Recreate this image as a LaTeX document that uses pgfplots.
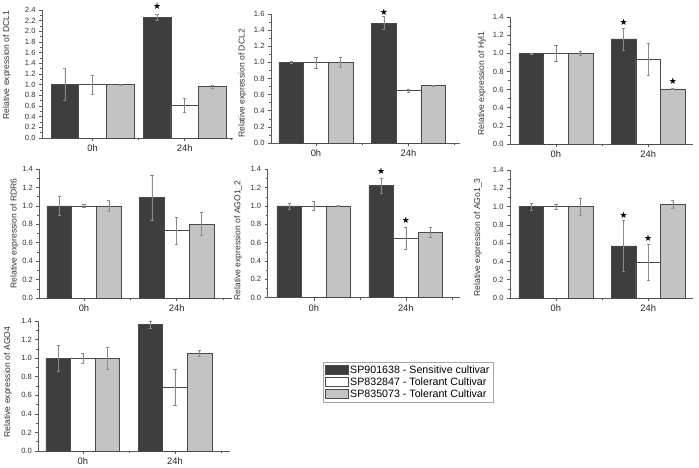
\documentclass[border=0pt]{standalone}
\usepackage{pgfplots}
\pgfplotsset{compat=1.18}
\usepackage{fontspec}
\setmainfont{Liberation Sans}
\newfontfamily\dejavu{DejaVu Sans}
\definecolor{darkbar}{HTML}{3E3E3E}
\definecolor{graybar}{HTML}{C3C3C3}
\definecolor{edge}{HTML}{4A4A4A}
\definecolor{errc}{HTML}{8A8A8A}
\definecolor{axc}{HTML}{5A5A5A}
\pgfplotsset{
 panel/.style={
  scale only axis,
  anchor=south west,
  axis x line*=bottom, axis y line*=left,
  axis line style={axc, line width=0.6pt},
  tick style={axc, line width=0.5pt},
  tick align=outside,
  major tick length=3bp, minor tick length=2bp,
  ymin=0,
  xtick={0,1}, xticklabels={0h,24h},
  minor xtick={0.5,1.5},
  ytick distance=0.2, minor y tick num=1,
  /pgf/number format/assume math mode=true,
  yticklabel style={/pgf/number format/.cd, fixed, fixed zerofill, precision=1, /tikz/.cd, font=\fontsize{7.6}{8}\selectfont, text=black!80},
  xticklabel style={font=\fontsize{9.4}{10}\selectfont, text=black!85},
  ylabel style={font=\fontsize{8.6}{9}\selectfont, text=black!80, anchor=center},
  clip=false,
  bar width=0.267,
 },
 bars/.style={ybar, bar shift=0pt, draw=edge, line width=0.55pt, fill=#1,
   legend image code/.code={\draw[##1,/tikz/.cd, draw=edge] (0bp,-4.5bp) rectangle (23bp,4.5bp);},
   error bars/.cd, y dir=both, y explicit,
   error bar style={errc, line width=0.45pt},
   error mark options={errc, rotate=90, mark size=1.6bp, line width=0.45pt}},
 star/.style={only marks, mark=text, text mark={\fontsize{9}{9}\selectfont\dejavu ★}, black}
}
\begin{document}
\begin{tikzpicture}
\path[use as bounding box] (0,0) rectangle (699bp,468bp);
% ---------------- DCL1
\begin{axis}[panel, at={(42bp,330bp)}, width=191.3bp, height=128bp,
  ymax=2.4, xmin=-0.548, xmax=1.527, bar width=0.3,
  ylabel={Relative expression of DCL1},
  ylabel style={at={([xshift=-35bp,yshift=9bp]axis description cs:0,0.5)}}]
\addplot[bars=darkbar] coordinates {(-0.3,1.0) +- (0,0.30) (0.7,2.26) +- (0,0.06)};
\addplot[bars=white] coordinates {(0,1.0) +- (0,0.17) (1,0.61) +- (0,0.13)};
\addplot[bars=graybar] coordinates {(0.3,1.0) +- (0,0.01) (1.3,0.966) +- (0,0.03)};
\addplot[star] coordinates {(0.7,2.475)};
\end{axis}
% ---------------- DCL2
\begin{axis}[panel, at={(271bp,325bp)}, width=189bp, height=129bp,
  ymax=1.6, xmin=-0.486, xmax=1.557,
  ylabel={Relative expression of DCL2},
  ylabel style={at={([xshift=-28.5bp,yshift=-5bp]axis description cs:0,0.5)}}]
\addplot[bars=darkbar] coordinates {(-0.267,1.0) +- (0,0.01) (0.733,1.488) +- (0,0.08)};
\addplot[bars=white] coordinates {(0,1.0) +- (0,0.07) (1,0.653) +- (0,0.02)};
\addplot[bars=graybar] coordinates {(0.267,1.0) +- (0,0.06) (1.267,0.71) +- (0,0.01)};
\addplot[star] coordinates {(0.733,1.62)};
\end{axis}
% ---------------- Hyl1
\begin{axis}[panel, at={(510bp,324bp)}, width=183bp, height=127bp,
  ymax=1.4, xmin=-0.498, xmax=1.486,
  ylabel={Relative expression of Hyl1},
  ylabel style={at={([xshift=-28bp,yshift=-3bp]axis description cs:0,0.5)}}]
\addplot[bars=darkbar] coordinates {(-0.267,1.0) +- (0,0.005) (0.733,1.159) +- (0,0.12)};
\addplot[bars=white] coordinates {(0,1.0) +- (0,0.085) (1,0.936) +- (0,0.18)};
\addplot[bars=graybar] coordinates {(0.267,1.0) +- (0,0.02) (1.267,0.607) +- (0,0.005)};
\addplot[star] coordinates {(0.733,1.337) (1.267,0.695)};
\end{axis}
% ---------------- RDR6
\begin{axis}[panel, at={(39.3bp,170bp)}, width=192.4bp, height=129bp,
  ymax=1.4, xmin=-0.482, xmax=1.593,
  ylabel={Relative expression of RDR6},
  ylabel style={at={([xshift=-25bp]axis description cs:0,0.5)}}]
\addplot[bars=darkbar] coordinates {(-0.267,1.0) +- (0,0.10) (0.733,1.089) +- (0,0.245)};
\addplot[bars=white] coordinates {(0,1.0) +- (0,0.02) (1,0.731) +- (0,0.145)};
\addplot[bars=graybar] coordinates {(0.267,1.0) +- (0,0.06) (1.267,0.803) +- (0,0.125)};
\end{axis}
% ---------------- AGO1_2
\begin{axis}[panel, at={(267.7bp,170.3bp)}, width=192.3bp, height=128.4bp,
  ymax=1.4, xmin=-0.5, xmax=1.588,
  ylabel={Relative expression of AGO1\_2},
  ylabel style={at={([xshift=-29.5bp,yshift=-7bp]axis description cs:0,0.5)}}]
\addplot[bars=darkbar] coordinates {(-0.267,1.0) +- (0,0.03) (0.733,1.222) +- (0,0.085)};
\addplot[bars=white] coordinates {(0,1.0) +- (0,0.05) (1,0.651) +- (0,0.12)};
\addplot[bars=graybar] coordinates {(0.267,1.0) +- (0,0.005) (1.267,0.713) +- (0,0.05)};
\addplot[star] coordinates {(0.733,1.382) (1,0.84)};
\end{axis}
% ---------------- AGo1_3
\begin{axis}[panel, at={(510bp,170bp)}, width=183bp, height=128bp,
  ymax=1.4, xmin=-0.498, xmax=1.486,
  ylabel={Relative expression of AGo1\_3},
  ylabel style={at={([xshift=-32bp,yshift=-3.5bp]axis description cs:0,0.5)}}]
\addplot[bars=darkbar] coordinates {(-0.267,1.0) +- (0,0.04) (0.733,0.571) +- (0,0.28)};
\addplot[bars=white] coordinates {(0,1.0) +- (0,0.03) (1,0.393) +- (0,0.195)};
\addplot[bars=graybar] coordinates {(0.267,1.0) +- (0,0.09) (1.267,1.025) +- (0,0.045)};
\addplot[star] coordinates {(0.733,0.908) (1,0.653)};
\end{axis}
% ---------------- AGO4
\begin{axis}[panel, at={(38.3bp,17bp)}, width=191.7bp, height=130bp,
  ymax=1.4, xmin=-0.483, xmax=1.597,
  ylabel={Relative expression of AGO4},
  ylabel style={at={([xshift=-30.5bp,yshift=4bp]axis description cs:0,0.5)}},
  legend style={at={(axis description cs:1.485,0.685)}, anchor=north west,
    draw=black!35, fill=white, font=\fontsize{10.7}{11}\selectfont,
    inner sep=1.5bp, row sep=-1.2bp,
    /tikz/every even column/.append style={column sep=1bp}},
  legend cell align=left]
\addplot[bars=darkbar] coordinates {(-0.267,1.0) +- (0,0.14) (0.733,1.36) +- (0,0.035)};
\addlegendentry{SP901638 - Sensitive cultivar}
\addplot[bars=white] coordinates {(0,1.0) +- (0,0.055) (1,0.686) +- (0,0.19)};
\addlegendentry{SP832847 - Tolerant Cultivar}
\addplot[bars=graybar] coordinates {(0.267,1.0) +- (0,0.115) (1.267,1.052) +- (0,0.035)};
\addlegendentry{SP835073 - Tolerant Cultivar}
\end{axis}
\end{tikzpicture}
\end{document}
